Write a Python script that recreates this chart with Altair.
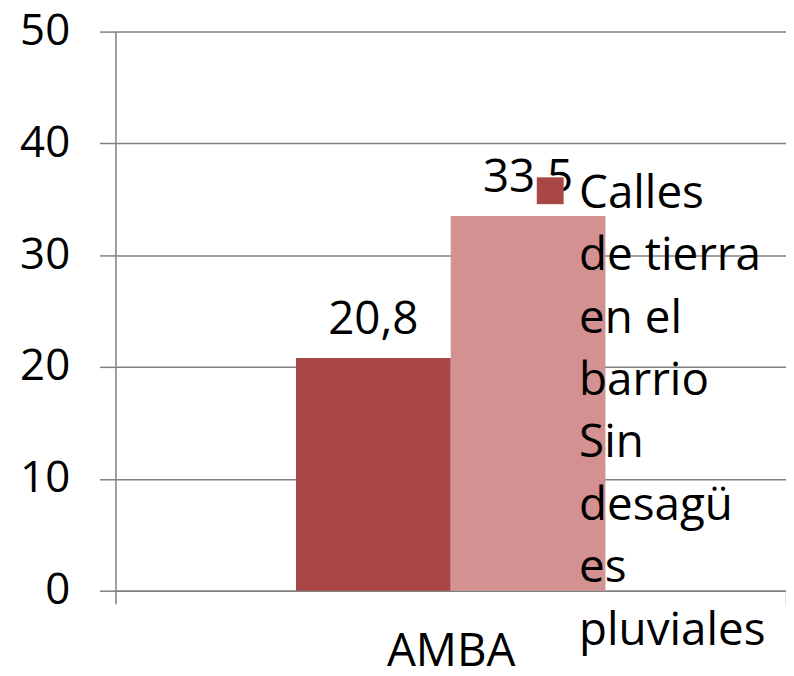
import altair as alt
import pandas as pd

categories = ["AMBA"]
series = ["Calles de tierra en el barrio", "Sin desagües pluviales"]
values = [20.8, 33.5]
value_labels = ["20,8", "33,5"]
legend_text = ["Calles\nde tierra\nen el\nbarrio", "Sin\ndesagü\nes\npluviales"]
colors = ["#A94646", "#D39191"]
y_ticks = [0, 10, 20, 30, 40, 50]

FONT = "Open Sans"
FS = 46
GRID = "#808080"

df = pd.DataFrame({
    "cat": [categories[0]] * len(series),
    "serie": series,
    "valor": values,
    "etiqueta": value_labels,
})

x_enc = alt.X("cat:N", sort=categories,
              scale=alt.Scale(paddingInner=0, paddingOuter=0),
              axis=alt.Axis(title=None, labelAngle=0, tickBand="extent",
                            tickSize=13, labelPadding=26, domain=True,
                            labelFontSize=FS, labelFont=FONT, labelColor="black",
                            grid=False))
xoff_enc = alt.XOffset("serie:N", sort=series,
                       scale=alt.Scale(range=[181.5, 492.5],
                                       paddingInner=0, paddingOuter=0))
y_enc = alt.Y("valor:Q", scale=alt.Scale(domain=[0, 50], nice=False),
              axis=alt.Axis(title=None, values=y_ticks, tickSize=16,
                            labelPadding=30, labelFontSize=44, labelFont=FONT,
                            labelColor="black", grid=True))
col_enc = alt.Color("serie:N", scale=alt.Scale(domain=series, range=colors),
                    legend=None)

base = alt.Chart(df)
bars = base.mark_bar().encode(x=x_enc, xOffset=xoff_enc, y=y_enc, color=col_enc)
labels = base.mark_text(baseline="bottom", dy=-14, fontSize=FS, font=FONT,
                        color="black").encode(
    x=x_enc, xOffset=xoff_enc, y=y_enc, text="etiqueta:N")

layers = [bars, labels]
LH = 62.75
for i, (s, t) in enumerate(zip(series, legend_text)):
    ldf = pd.DataFrame({"serie": [s], "txt": [t]})
    sq = alt.Chart(ldf).mark_square(size=729, opacity=1, filled=True).encode(
        x=alt.value(437), y=alt.value(160 + i * 4 * LH), color=col_enc)
    tx = alt.Chart(ldf).mark_text(align="left", baseline="alphabetic",
                                  lineBreak="\n", lineHeight=LH, fontSize=FS,
                                  font=FONT, color="black").encode(
        x=alt.value(466), y=alt.value(177 + i * 4 * LH), text="txt:N")
    layers += [sq, tx]

chart = alt.layer(*layers).properties(
    width=674, height=562,
    autosize=alt.AutoSizeParams(type="none"),
    padding={"left": 108, "top": 22, "right": 0, "bottom": 78},
).configure_view(stroke=None).configure_axis(
    domainColor=GRID, gridColor=GRID, tickColor=GRID,
    domainWidth=1.5, gridWidth=1.5, tickWidth=1.5,
)

chart.save("out.html", embed_options={"renderer": "svg", "actions": False})
